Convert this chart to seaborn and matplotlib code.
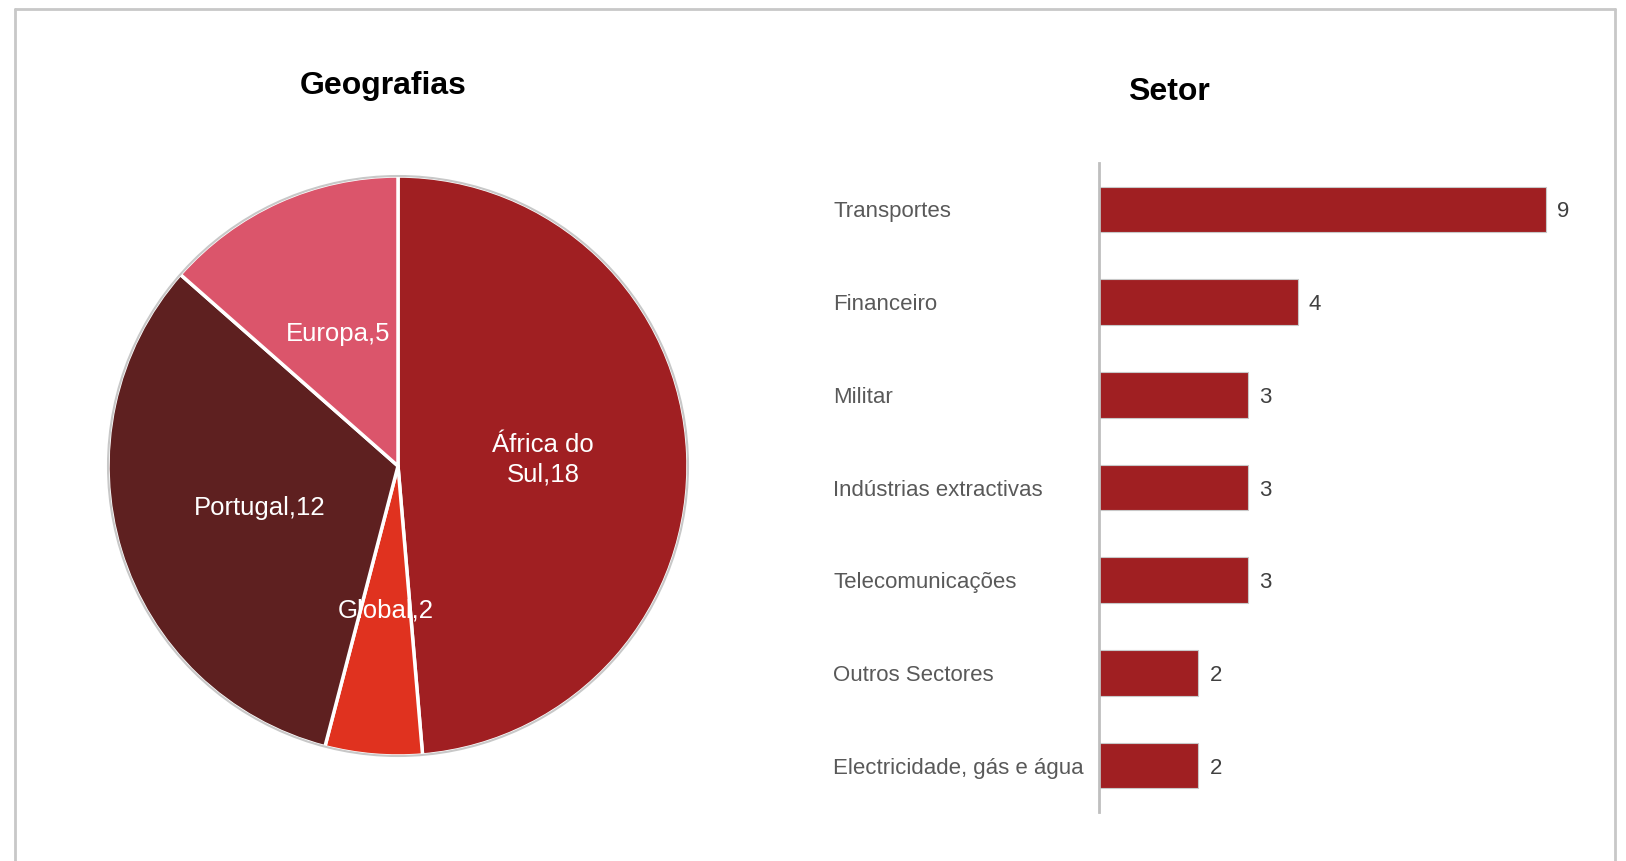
import matplotlib
matplotlib.use("Agg")
import matplotlib.pyplot as plt
from matplotlib.lines import Line2D
from matplotlib.patches import Circle
import seaborn as sns
import pandas as pd

# ---- data ----
geo_labels = ["África do\nSul,18", "Global,2", "Portugal,12", "Europa,5"]
geo_values = [18, 2, 12, 5]
geo_colors = ["#A01F22", "#E0321F", "#5E2020", "#DB556B"]

sector_names = ["Transportes", "Financeiro", "Militar", "Indústrias extractivas",
                "Telecomunicações", "Outros Sectores", "Electricidade, gás e água"]
sector_values = [9, 4, 3, 3, 3, 2, 2]

sns.set_theme(style="white")
plt.rcParams['font.family'] = ['Liberation Sans', 'DejaVu Sans']

W, H = 1626, 861
fig = plt.figure(figsize=(W / 100, H / 100), dpi=100)
fig.patch.set_facecolor("white")

# ---- frame border (top, left, right) ----
bc = "#C8C8C8"
xl, xr, yt = 15 / W, 1615 / W, 1 - 9 / H
fig.add_artist(Line2D([xl, xl], [0, yt], color=bc, lw=2, transform=fig.transFigure))
fig.add_artist(Line2D([xr, xr], [0, yt], color=bc, lw=2, transform=fig.transFigure))
fig.add_artist(Line2D([xl, xr], [yt, yt], color=bc, lw=2, transform=fig.transFigure))

# ---- pie ----
cx, cy, R = 398, 466, 290
m = 1.01
side = 2 * R * m
ax1 = fig.add_axes([(cx - side / 2) / W, (H - cy - side / 2) / H, side / W, side / H])
wedges, texts = ax1.pie(geo_values, labels=geo_labels, colors=geo_colors,
                        startangle=90, counterclock=False, labeldistance=0.5,
                        wedgeprops=dict(edgecolor="white", linewidth=2.5),
                        textprops=dict(color="white", fontsize=18.5))
for t in texts:
    t.set_horizontalalignment("center")
    t.set_verticalalignment("center")
    t.set_linespacing(1.25)
ax1.add_patch(Circle((0, 0), 1.0, fill=False, edgecolor="#C8C8C8", lw=1.5, zorder=5))
ax1.set_xlim(-m, m)
ax1.set_ylim(-m, m)
ax1.set_aspect("equal")
ax1.axis("off")
fig.text(383 / W, 1 - 86 / H, "Geografias", ha="center", va="center",
         fontsize=23, fontweight="bold", color="black")

# ---- bar chart ----
x0 = 1099
unit = (1546 - x0) / 9
ax_top, ax_bot = 163, 812
ax2 = fig.add_axes([x0 / W, 1 - ax_bot / H, unit * 10 / W, (ax_bot - ax_top) / H])
df = pd.DataFrame({"sector": sector_names, "value": sector_values})
sns.barplot(data=df, y="sector", x="value", orient="h", color="#A01F22",
            saturation=1, width=0.49, ax=ax2, edgecolor="#C8C8C8", linewidth=0.8)
ax2.set_xlim(0, 10)
ax2.set_ylim(len(sector_names) - 0.5, -0.5)
ax2.set_xlabel("")
ax2.set_ylabel("")
ax2.set_xticks([])
for s in ["top", "right", "bottom"]:
    ax2.spines[s].set_visible(False)
ax2.spines["left"].set_color("#BFBFBF")
ax2.spines["left"].set_linewidth(2)
pad_pts = (x0 - 833) * 0.72
ax2.tick_params(axis="y", length=0, pad=pad_pts, labelsize=16, labelcolor="#595959")
for lab in ax2.get_yticklabels():
    lab.set_horizontalalignment("left")
for c in ax2.containers:
    labs = ax2.bar_label(c, labels=[str(v) for v in sector_values], padding=8,
                         fontsize=16, color="#404040")
    for t in labs:
        t.set_verticalalignment("center_baseline")
fig.text(1169 / W, 1 - 92 / H, "Setor", ha="center", va="center",
         fontsize=23, fontweight="bold", color="black")

fig.savefig("out.png", dpi=100, facecolor="white")
